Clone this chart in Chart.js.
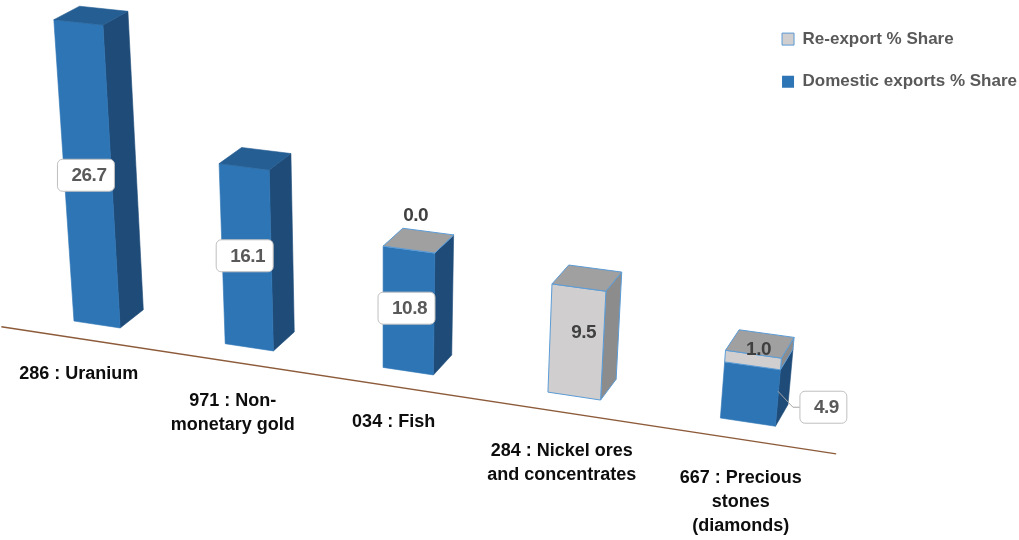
<!DOCTYPE html>
<html>
<head>
<meta charset="utf-8">
<script src="https://cdn.jsdelivr.net/npm/chart.js@4.4.1/dist/chart.umd.min.js"></script>
<style>
  html, body { margin: 0; padding: 0; background: #fff; }
  #wrap { width: 1019px; height: 540px; }
</style>
</head>
<body>
<div id="wrap"><canvas id="chart"></canvas></div>
<script>
// Export share by product (%)
const categories = [
    ['286 : Uranium'],
    ['971 : Non-', 'monetary gold'],
    ['034 : Fish'],
    ['284 : Nickel ores', 'and concentrates'],
    ['667 : Precious', 'stones', '(diamonds)']
];
const domesticShare = [26.7, 16.1, 10.8, null, 4.9];
const reexportShare = [null, null, 0.0, 9.5, 1.0];
const seriesNames = ['Domestic exports % Share', 'Re-export % Share'];

// bars whose value label sits in a callout beside the bar
const calloutBars = [4];

// --- 3D projection (three vanishing points) ---
const VP_X = [-7000, -740];
const VP_Y = [380, 4900];
const VP_Z = [1424, -700];
const ORIGIN = [97, 324.5];
const W_X = -0.021, W_Y = -0.00232, W_Z = 0.018;
const FLOOR_Z = -0.75;

function project(X, Y, Z) {
    const a = W_X * X, b = W_Y * Y, c = W_Z * Z;
    const w = 1 + a + b + c;
    return [
        (ORIGIN[0] + a * VP_X[0] + b * VP_Y[0] + c * VP_Z[0]) / w,
        (ORIGIN[1] + a * VP_X[1] + b * VP_Y[1] + c * VP_Z[1]) / w
    ];
}

function face(ctx, pts, fill, stroke) {
    ctx.beginPath();
    pts.forEach(([x, y], k) => k ? ctx.lineTo(x, y) : ctx.moveTo(x, y));
    ctx.closePath();
    ctx.fillStyle = fill;
    ctx.fill();
    ctx.strokeStyle = stroke || fill;
    ctx.lineWidth = stroke ? 1 : 0.6;
    ctx.stroke();
}

const VALUE_FONT = 'bold 19px "Liberation Sans", Arial, sans-serif';
const CAT_FONT = 'bold 18px "Liberation Sans", Arial, sans-serif';

function boxLabel(ctx, text, cx, cy) {
    ctx.font = VALUE_FONT;
    ctx.letterSpacing = '-0.5px';
    const w = ctx.measureText(text).width + 22, h = 32;
    ctx.beginPath();
    ctx.roundRect(cx - w / 2, cy - h / 2, w, h, 5);
    ctx.fillStyle = '#fff';
    ctx.fill();
    ctx.strokeStyle = '#BFBFBF';
    ctx.lineWidth = 1;
    ctx.stroke();
    ctx.fillStyle = '#595959';
    ctx.textAlign = 'center';
    ctx.textBaseline = 'middle';
    ctx.fillText(text, cx + 3, cy + 1);
}

function plainLabel(ctx, text, cx, cy) {
    ctx.font = VALUE_FONT;
    ctx.letterSpacing = '-0.5px';
    ctx.fillStyle = '#404040';
    ctx.textAlign = 'center';
    ctx.textBaseline = 'middle';
    ctx.fillText(text, cx, cy);
}

const bars3d = {
    id: 'bars3d',
    beforeDatasetDraw() {
        return false;
    },
    afterDatasetsDraw(chart) {
        const ctx = chart.ctx;
        const xs = chart.scales.x, ys = chart.scales.y;
        const x0 = xs.getPixelForValue(0);
        const step = xs.getPixelForValue(1) - x0;
        ctx.save();

        // floor edge
        const p1 = project(-0.52, 0, FLOOR_Z), p2 = project(4.54, 0, FLOOR_Z);
        ctx.beginPath();
        ctx.moveTo(p1[0], p1[1]);
        ctx.lineTo(p2[0], p2[1]);
        ctx.strokeStyle = '#8D5B3A';
        ctx.lineWidth = 1.4;
        ctx.stroke();

        const labels = [];
        categories.forEach((cat, i) => {
            const segs = [];
            chart.data.datasets.forEach((ds, d) => {
                if (ds.data[i] === null) return;
                const el = chart.getDatasetMeta(d).data[i];
                segs.push({
                    ds, d,
                    value: ds.data[i],
                    xc: (el.x - x0) / step,
                    half: el.width / 2 / step,
                    yb: ys.getValueForPixel(el.base),
                    yt: ys.getValueForPixel(el.y)
                });
            });
            segs.forEach((s, k) => {
                const xl = s.xc - s.half, xr = s.xc + s.half;
                const f = s.ds.faces;
                face(ctx, [project(xr, s.yb, 0), project(xr, s.yb, 1), project(xr, s.yt, 1), project(xr, s.yt, 0)], f.side, f.stroke);
                face(ctx, [project(xl, s.yb, 0), project(xr, s.yb, 0), project(xr, s.yt, 0), project(xl, s.yt, 0)], f.front, f.stroke);
                if (k === segs.length - 1) {
                    face(ctx, [project(xl, s.yt, 0), project(xr, s.yt, 0), project(xr, s.yt, 1), project(xl, s.yt, 1)], f.top, f.stroke);
                }
                labels.push({ s, i, xr });
            });

            // category label on the floor
            const [lx, ly] = project(segs[0].xc, 0, FLOOR_Z);
            ctx.font = CAT_FONT;
            ctx.letterSpacing = '0px';
            ctx.fillStyle = '#0D0D0D';
            ctx.textAlign = 'center';
            ctx.textBaseline = 'middle';
            const top = cat.length === 1 ? 36 : 39;
            cat.forEach((line, n) => ctx.fillText(line, lx + (i === 4 ? 3 : 0), ly + top + n * 24));
        });

        labels.forEach(({ s, i, xr }) => {
            const text = s.value.toFixed(1);
            const ym = (s.yb + s.yt) / 2;
            if (s.d === 0) {
                if (calloutBars.includes(i)) {
                    const [ax, ay] = project(xr, ym, 0);
                    ctx.beginPath();
                    ctx.moveTo(ax, ay - 7);
                    ctx.lineTo(ax + 15, ay + 9);
                    ctx.lineTo(ax + 22, ay + 9);
                    ctx.strokeStyle = '#A6A6A6';
                    ctx.lineWidth = 1;
                    ctx.stroke();
                    ctx.font = VALUE_FONT;
                    ctx.letterSpacing = '-0.5px';
                    const w = ctx.measureText(text).width + 22;
                    boxLabel(ctx, text, ax + 22 + w / 2, ay + 9);
                } else {
                    const [cx, cy] = project(s.xc, ym, 0);
                    boxLabel(ctx, text, cx - 2, cy - 3);
                }
            } else if (s.yt - s.yb < 0.05) {
                const [cx, cy] = project(s.xc, s.yt, 0.5);
                plainLabel(ctx, text, cx - 3, cy - 25);
            } else {
                const [cx, cy] = project(s.xc, ym, 0.5);
                plainLabel(ctx, text, cx - 1, cy);
            }
        });
        ctx.restore();
    }
};

new Chart(document.getElementById('chart'), {
    type: 'bar',
    data: {
        labels: categories,
        datasets: [
            {
                label: seriesNames[0],
                data: domesticShare,
                backgroundColor: '#2E75B6',
                borderWidth: 0,
                faces: { front: '#2E75B6', side: '#1F4B78', top: '#255E93', stroke: null }
            },
            {
                label: seriesNames[1],
                data: reexportShare,
                backgroundColor: '#D0CECE',
                borderColor: '#5B9BD5',
                borderWidth: 1,
                faces: { front: '#D0CECE', side: '#8C8C8C', top: '#A0A0A0', stroke: '#5B9BD5' }
            }
        ]
    },
    options: {
        responsive: true,
        maintainAspectRatio: false,
        animation: false,
        layout: { padding: { top: 5, right: -8 } },
        datasets: { bar: { barPercentage: 0.31, categoryPercentage: 1 } },
        scales: {
            x: { display: false, stacked: true },
            y: { display: false, stacked: true, min: 0, max: 30 }
        },
        plugins: {
            tooltip: { enabled: false },
            legend: {
                position: 'right',
                align: 'start',
                reverse: true,
                labels: {
                    boxWidth: 12,
                    boxHeight: 12,
                    padding: 25.6,
                    color: '#595959',
                    font: { family: '"Liberation Sans", Arial, sans-serif', size: 17, weight: 'bold' }
                }
            }
        }
    },
    plugins: [bars3d]
});
</script>
</body>
</html>
